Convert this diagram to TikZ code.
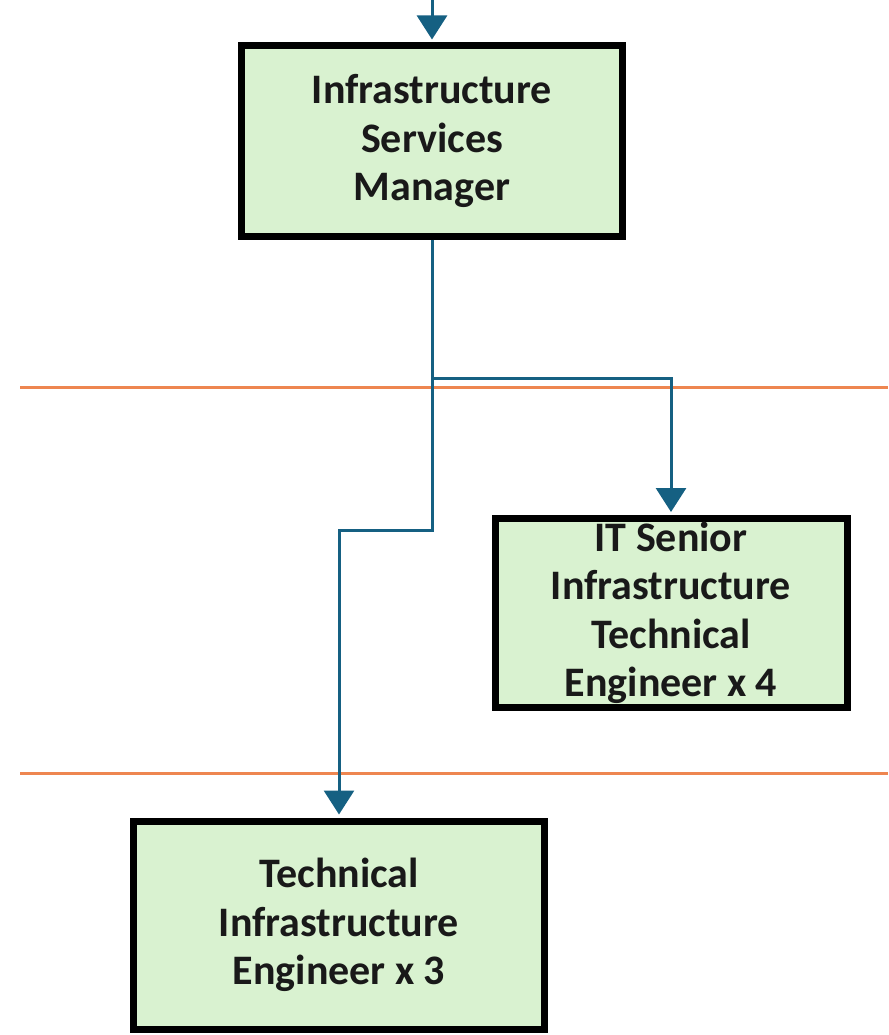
\documentclass[tikz,border=0pt]{standalone}
\usepackage{fontspec}
\setmainfont{Carlito}
\usetikzlibrary{arrows.meta}

\definecolor{rolefill}{HTML}{D9F2D0}
\definecolor{linkblue}{HTML}{156082}
\definecolor{bandline}{HTML}{EE8650}

\begin{document}
\begin{tikzpicture}[x=1pt, y=-1pt,
  role/.style={draw=black, line width=7pt, fill=rolefill, align=center,
    inner sep=0pt, text=black!90, font=\fontsize{42}{48.5}\selectfont\bfseries},
  link/.style={draw=linkblue, line width=3pt, shorten >=3pt,
    -{Triangle[width=30pt, length=24pt]}},
  band/.style={draw=bandline, line width=3pt}]
  \useasboundingbox (0,0) rectangle (888,1035);

  % Level bands
  \draw[band] (20,387) -- (888,387);
  \draw[band] (20,773) -- (888,773);

  % Roles
  \node[role, minimum width=381pt, minimum height=190pt] (manager) at (432,141)
    {Infrastructure\\Services\\Manager};
  \node[role, minimum width=352pt, minimum height=189pt] (senior) at (671,613)
    {IT Senior\\Infrastructure\\Technical\\Engineer x 4};
  \node[role, minimum width=411pt, minimum height=208pt] (engineer) at (339,925)
    {Technical\\Infrastructure\\Engineer x 3};

  % Reporting lines
  \coordinate (feed) at (432,0);
  \coordinate (split) at (432,378);
  \coordinate (jog) at (432,530);
  \draw[link] (feed) -- (manager.north);
  \draw[link] (manager.south) -- (split) -| (senior.north);
  \draw[link] (split) -- (jog) -| (engineer.north);
\end{tikzpicture}
\end{document}
